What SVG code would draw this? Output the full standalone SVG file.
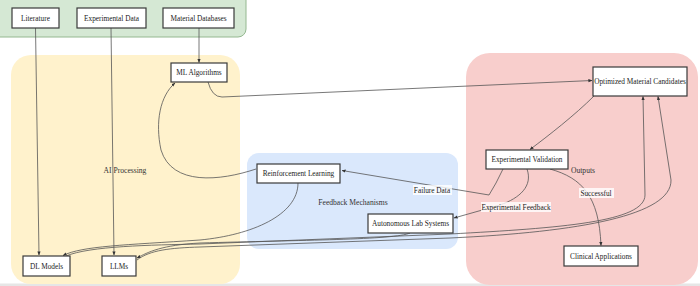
<svg xmlns="http://www.w3.org/2000/svg" width="700" height="286" viewBox="0 0 700 286">
<defs>
<marker id="ah" viewBox="0 0 10 10" refX="9" refY="5" markerWidth="5" markerHeight="5" orient="auto-start-reverse">
<path d="M0,1 L10,5 L0,9 z" fill="#333"/>
</marker>
<style>
.node rect{fill:#fff;stroke:#3a3a3a;stroke-width:1.2}
.node text,.lbl,.clab{font-family:"Liberation Serif","Times New Roman",serif;font-size:7.3px;fill:#222;text-anchor:middle;dominant-baseline:central}
.clab{font-size:7.6px;fill:#333}
.edges path{fill:none;stroke:#555;stroke-width:0.8;marker-end:url(#ah)}
.lblbg{fill:#fff;opacity:0.8}
</style>
</defs>
<rect width="700" height="286" fill="#fff"/>
<rect x="0" y="283.5" width="700" height="2.5" fill="#e6e6e6"/>
<!-- clusters -->
<g id="cluster-sources"><rect x="-8" y="-10" width="254" height="47" rx="8" fill="#d5e8d4" stroke="#94b890" stroke-width="1"/></g>
<g id="cluster-ai"><rect x="11" y="55" width="229" height="229" rx="20" fill="#fff2cc"/><text class="clab" x="125" y="170">AI Processing</text></g>
<g id="cluster-feedback"><rect x="247" y="153" width="211" height="96" rx="12" fill="#dae8fc"/><text class="clab" x="353" y="202">Feedback Mechanisms</text></g>
<g id="cluster-outputs"><rect x="466" y="53" width="232" height="232" rx="24" fill="#f8cecc"/><text class="clab" x="583" y="170">Outputs</text></g>
<!-- connectors -->
<g id="edges" class="edges">
<path d="M35.5,28 L39,255"/>
<path d="M111,28 L114,255"/>
<path d="M199,28 L199,62.5"/>
<path d="M208,82 Q212,97 222,97 L592,80.5"/>
<path d="M594,96 C575,115 548,136 530,149.5"/>
<path d="M550,169 C582,178 599,196 601,245.5"/>
<path d="M503,169 Q496,184 489,195 L342,170.5"/>
<path d="M527,169 C533,186 520,198 500,205 L454,218"/>
<path d="M256,169 C220,181 172,186 161,150 C155,122 160,96 175,83"/>
<path d="M298,183 C298,215 252,235 200,240 C125,245 82,246 63,255.5"/>
<path d="M410,233 C395,240 300,240 200,243 C162,245 148,252 137,258"/>
<path d="M66,256 C90,246 150,245 200,244 L450,234 C560,228 645,222 645,195 L643,96.5"/>
<path d="M137,260 C150,250 170,248 200,247 L450,238 C580,232 672,215 671,180 L658,96.5"/>
</g>
<!-- edge labels -->
<g id="edge-labels">
<rect class="lblbg" x="413" y="185" width="39" height="10"/><text class="lbl" x="432" y="190">Failure Data</text>
<rect class="lblbg" x="481" y="202" width="70" height="10"/><text class="lbl" x="516" y="207">Experimental Feedback</text>
<rect class="lblbg" x="579" y="188" width="35" height="10"/><text class="lbl" x="596" y="193">Successful</text>
</g>
<!-- nodes -->
<g id="n-literature" class="node"><rect x="12" y="8" width="47" height="20"/><text x="35.5" y="18">Literature</text></g>
<g id="n-expdata" class="node"><rect x="77" y="8" width="69" height="20"/><text x="111.5" y="18">Experimental Data</text></g>
<g id="n-matdb" class="node"><rect x="163" y="8" width="71" height="20"/><text x="198.5" y="18">Material Databases</text></g>
<g id="n-ml" class="node"><rect x="171" y="63" width="56" height="19"/><text x="199" y="72.5">ML Algorithms</text></g>
<g id="n-dl" class="node"><rect x="23" y="256" width="47" height="20"/><text x="46.5" y="266">DL Models</text></g>
<g id="n-llm" class="node"><rect x="102" y="256" width="34" height="20"/><text x="119" y="266">LLMs</text></g>
<g id="n-rl" class="node"><rect x="257" y="164" width="83" height="19"/><text x="298.5" y="173.5">Reinforcement Learning</text></g>
<g id="n-auto" class="node"><rect x="368" y="214" width="85" height="19"/><text x="410.5" y="223.5">Autonomous Lab Systems</text></g>
<g id="n-opt" class="node"><rect x="593" y="67" width="94" height="29"/><text x="640" y="81.5">Optimized Material Candidates</text></g>
<g id="n-ev" class="node"><rect x="486" y="150" width="82" height="19"/><text x="527" y="159.5">Experimental Validation</text></g>
<g id="n-clin" class="node"><rect x="564" y="246" width="74" height="20"/><text x="601" y="256">Clinical Applications</text></g>
</svg>
